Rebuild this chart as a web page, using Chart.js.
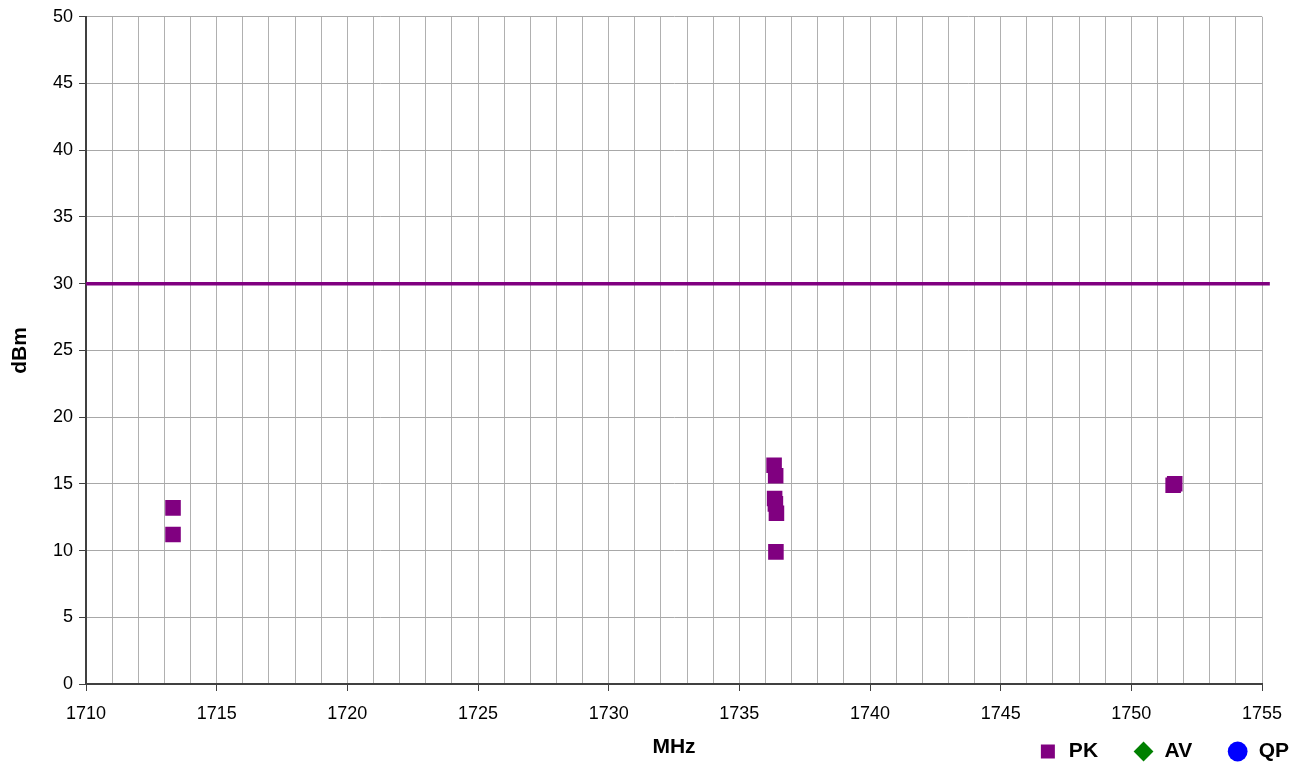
<!DOCTYPE html>
<html>
<head>
<meta charset="utf-8">
<script src="https://cdn.jsdelivr.net/npm/chart.js@4/dist/chart.umd.min.js"></script>
<style>
  html, body { margin: 0; padding: 0; background: #fff; }
  #wrap { width: 1291px; height: 762px; }
</style>
</head>
<body>
<div id="wrap"><canvas id="emiChart"></canvas></div>
<script>
// peak readings (MHz, dBm)
var pkFreq = [1713.33, 1713.33, 1736.33, 1736.39, 1736.35, 1736.38, 1736.42, 1736.40, 1751.60, 1751.66];
var pkLevel = [13.2, 11.2, 16.4, 15.6, 13.9, 13.5, 12.8, 9.9, 14.9, 15.0];
var avFreq = [], avLevel = [];
var qpFreq = [], qpLevel = [];
var limitFreq = [1710, 1755.3];
var limitLevel = [30, 30];

function pairs(xs, ys) {
    var out = [];
    for (var i = 0; i < xs.length; i++) out.push({ x: xs[i], y: ys[i] });
    return out;
}

var FONT = 'Liberation Sans, Arial, sans-serif';
Chart.defaults.font.family = FONT;
Chart.defaults.color = '#000';

var ctx = document.getElementById('emiChart').getContext('2d');

var emiChart = new Chart(ctx, {
    type: 'scatter',
    data: {
        datasets: [{
            label: 'PK',
            data: pairs(pkFreq, pkLevel),
            pointStyle: 'rect',
            pointRadius: 11,
            pointHoverRadius: 11,
            borderWidth: 0,
            backgroundColor: '#800080',
            borderColor: '#800080'
        }, {
            label: 'AV',
            data: pairs(avFreq, avLevel),
            pointStyle: 'rectRot',
            pointRadius: 8,
            borderWidth: 0,
            backgroundColor: '#008000',
            borderColor: '#008000'
        }, {
            label: 'QP',
            data: pairs(qpFreq, qpLevel),
            pointStyle: 'circle',
            pointRadius: 8,
            borderWidth: 0,
            backgroundColor: '#0000ff',
            borderColor: '#0000ff'
        }, {
            label: 'Limit',
            data: pairs(limitFreq, limitLevel),
            showLine: true,
            pointRadius: 0,
            borderWidth: 3.5,
            borderColor: '#800080',
            backgroundColor: '#800080',
            clip: false
        }]
    },
    options: {
        responsive: true,
        maintainAspectRatio: false,
        animation: false,
        layout: { padding: { top: 16, left: 0, right: -33, bottom: -10 } },
        plugins: {
            tooltip: { enabled: false },
            legend: {
                position: 'bottom',
                align: 'end',
                // empty title with negative padding pulls the legend row up
                title: { display: true, text: '', font: { size: 1 }, padding: { top: -19.2, bottom: 0 } },
                labels: {
                    usePointStyle: true,
                    boxHeight: 14,
                    padding: 35,
                    color: '#000',
                    font: { size: 21, weight: 'bold', family: FONT },
                    filter: function (item) { return item.datasetIndex < 3; }
                }
            }
        },
        scales: {
            x: {
                type: 'linear',
                min: 1710,
                max: 1755,
                afterFit: function (s) {
                    s.height = 40;
                    s.paddingLeft = 0;
                    s.paddingRight = 0;
                },
                ticks: {
                    stepSize: 1,
                    autoSkip: false,
                    maxRotation: 0,
                    padding: 12,
                    font: { size: 18 },
                    color: '#000',
                    callback: function (v) { return v % 5 === 0 ? v : ''; }
                },
                grid: {
                    color: '#b0b0b0',
                    lineWidth: 1,
                    tickLength: 7,
                    tickColor: function (c) {
                        return c.tick && c.tick.value % 5 === 0 ? '#404040' : 'rgba(0,0,0,0)';
                    }
                },
                border: { color: '#404040', width: 2 },
                title: {
                    display: true,
                    text: 'MHz',
                    color: '#000',
                    font: { size: 21, weight: 'bold' },
                    padding: { top: 0, bottom: -36 }
                }
            },
            y: {
                min: 0,
                max: 50,
                afterFit: function (s) { s.width = 86; },
                ticks: {
                    stepSize: 5,
                    padding: 6,
                    font: { size: 18 },
                    color: '#000'
                },
                grid: {
                    color: '#a8a8a8',
                    lineWidth: 1,
                    tickLength: 7,
                    tickColor: '#404040'
                },
                border: { color: '#404040', width: 2 },
                title: {
                    display: true,
                    text: 'dBm',
                    color: '#000',
                    font: { size: 21, weight: 'bold' },
                    padding: { top: 8, bottom: 0 }
                }
            },
            yRight: {
                position: 'right',
                min: 0,
                max: 50,
                afterFit: function (s) { s.width = 62; },
                ticks: { display: false },
                grid: { display: false },
                border: { display: false }
            }
        }
    }
});
</script>
</body>
</html>
